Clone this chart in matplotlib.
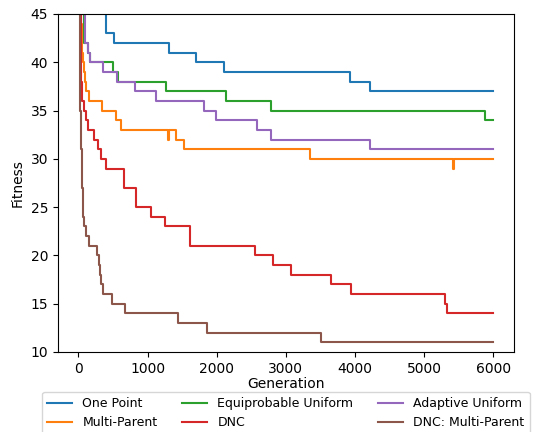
import matplotlib
matplotlib.use("Agg")
import matplotlib.pyplot as plt

END_GEN = 6000

# (generation where value changes, fitness value)
one_point_gen = [0, 15, 30, 60, 150, 393, 517, 1308, 1698, 2107, 3928, 4212]
one_point_fit = [75, 60, 52, 48, 46, 43, 42, 41, 40, 39, 38, 37]

multi_parent_gen = [0, 15, 30, 36, 45, 50, 55, 62, 75, 90, 115, 156, 344, 542, 610,
                    1290, 1315, 1409, 1520, 3355, 5420, 5426]
multi_parent_fit = [75, 55, 46, 44, 43, 42, 41, 40, 39, 38, 37, 36, 35, 34, 33,
                    32, 33, 32, 31, 30, 29, 30]

equi_gen = [0, 20, 50, 80, 84, 140, 170, 500, 565, 1265, 2131, 2782, 5874]
equi_fit = [75, 55, 48, 45, 42, 41, 40, 39, 38, 37, 36, 35, 34]

dnc_gen = [0, 10, 20, 30, 40, 46, 55, 84, 104, 142, 228, 277, 321, 393, 658, 831,
           1043, 1250, 1611, 2551, 2815, 3081, 3649, 3948, 5306, 5325]
dnc_fit = [75, 60, 50, 42, 38, 37, 36, 35, 34, 33, 32, 31, 30, 29, 27, 25,
           24, 23, 21, 20, 19, 18, 17, 16, 15, 14]

adaptive_gen = [0, 20, 50, 94, 142, 166, 358, 552, 816, 1120, 1818, 1987, 2584, 2782, 4217]
adaptive_fit = [75, 55, 48, 42, 41, 40, 39, 38, 37, 36, 35, 34, 33, 32, 31]

dnc_mp_gen = [0, 10, 16, 19, 21, 22, 24, 28, 32, 35, 39, 42, 46, 49, 52, 55, 60, 64, 69,
              84, 108, 156, 263, 300, 315, 330, 358, 480, 672, 1442, 1853, 3514]
dnc_mp_fit = [75, 60, 50, 45, 40, 37, 36, 35, 34, 33, 32, 31, 30, 29, 28, 27, 26, 25, 24,
              23, 22, 21, 20, 19, 18, 17, 16, 15, 14, 13, 12, 11]

series = [
    ("One Point", one_point_gen, one_point_fit),
    ("Multi-Parent", multi_parent_gen, multi_parent_fit),
    ("Equiprobable Uniform", equi_gen, equi_fit),
    ("DNC", dnc_gen, dnc_fit),
    ("Adaptive Uniform", adaptive_gen, adaptive_fit),
    ("DNC: Multi-Parent", dnc_mp_gen, dnc_mp_fit),
]

fig = plt.figure(figsize=(5.36, 4.32), dpi=100)
ax = fig.add_axes([0.1077, 0.1852, 0.8513, 0.7824])

for name, g, f in series:
    ax.plot(list(g) + [END_GEN], list(f) + [f[-1]], drawstyle="steps-post",
            label=name, lw=1.5)

ax.set_xlim(-300, 6300)
ax.set_ylim(10, 45)
ax.set_xlabel("Generation", labelpad=1)
ax.set_ylabel("Fitness")
ax.legend(loc="upper center", bbox_to_anchor=(0.5, -0.118), ncol=3,
          fancybox=True, borderaxespad=0, fontsize=9)

fig.savefig("out.png", dpi=100)
